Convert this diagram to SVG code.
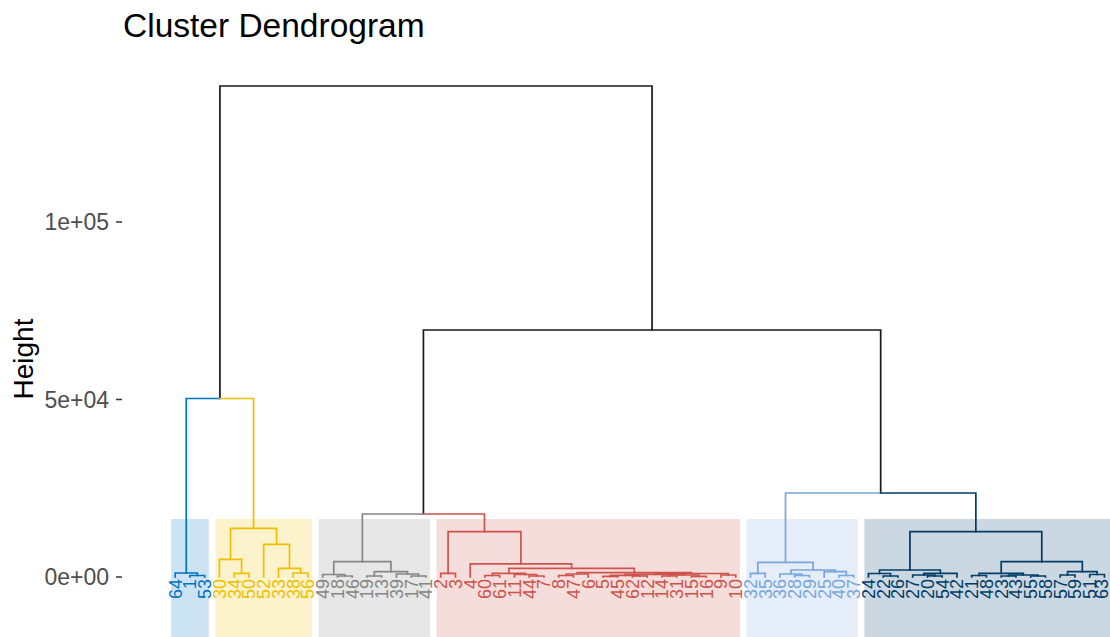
<svg xmlns="http://www.w3.org/2000/svg" width="1110" height="637" viewBox="0 0 1110 637">
  <style>
    text { font-family: "Liberation Sans", Arial, sans-serif; }
    .title { font-size: 33.5px; fill: #000; }
    .ytitle { font-size: 28px; fill: #000; }
    .tick { font-size: 23px; fill: #4d4d4d; text-anchor: end; }
    .tickmark { stroke: #333; stroke-width: 1.5; }
    .leaf { font-size: 18px; text-anchor: end; }
    .br { fill: none; stroke-width: 1.7; stroke-linejoin: miter; stroke-linecap: square; }
    .k { stroke: #1a1a1a; }
    .c1 { stroke: #0073C2; } .t1 { fill: #0073C2; }
    .c2 { stroke: #EFC000; } .t2 { fill: #EFC000; }
    .c3 { stroke: #868686; } .t3 { fill: #868686; }
    .c4 { stroke: #CD534C; } .t4 { fill: #CD534C; }
    .c5 { stroke: #7AA6DC; } .t5 { fill: #7AA6DC; }
    .c6 { stroke: #003C67; } .t6 { fill: #003C67; }
    .box { fill-opacity: 0.2; stroke: none; }
  </style>

  <rect width="1110" height="637" fill="#fff"/>

  <text class="title" x="123" y="37">Cluster Dendrogram</text>

  <!-- y axis -->
  <g id="axis">
    <text class="ytitle" x="-359" y="33" text-anchor="middle" transform="rotate(-90)">Height</text>
    <line class="tickmark" x1="116" y1="222" x2="122" y2="222"/>
    <line class="tickmark" x1="116" y1="399.5" x2="122" y2="399.5"/>
    <line class="tickmark" x1="116" y1="577" x2="122" y2="577"/>
    <text class="tick" x="109" y="230">1e+05</text>
    <text class="tick" x="109" y="407.5">5e+04</text>
    <text class="tick" x="109" y="585">0e+00</text>
  </g>

  <!-- cluster boxes -->
  <g id="cluster1"><rect class="box" fill="#0073C2" x="171.1" y="519" width="37.7" height="118"/></g>
  <g id="cluster2"><rect class="box" fill="#EFC000" x="215.4" y="519" width="96.6" height="118"/></g>
  <g id="cluster3"><rect class="box" fill="#868686" x="318.6" y="519" width="111.4" height="118"/></g>
  <g id="cluster4"><rect class="box" fill="#CD534C" x="436.6" y="519" width="303.2" height="118"/></g>
  <g id="cluster5"><rect class="box" fill="#7AA6DC" x="746.4" y="519" width="111.4" height="118"/></g>
  <g id="cluster6"><rect class="box" fill="#003C67" x="864.4" y="519" width="246" height="118"/></g>

  <!-- branches -->
  <g id="connectors">
    <!-- upper tree -->
    <path class="br k" d="M219.91 398.5 V86 H652.05 V330"/>
    <path class="br k" d="M423.42 514 V330 H880.67 V493"/>

    <!-- cluster 1 -->
    <path class="br c1" d="M186.26 573 V398.5 H219.91"/>
    <path class="br c1" d="M189.95 577 V575.5 H204.7 V577"/>
    <path class="br c1" d="M175.2 577 V573 H197.33 V575.5"/>

    <!-- cluster 2 -->
    <path class="br c2" d="M219.91 398.5 H253.56 V528.3"/>
    <path class="br c2" d="M230.51 559.3 V528.3 H276.6 V544.3"/>
    <path class="br c2" d="M219.45 577 V559.3 H241.58 V573.3"/>
    <path class="br c2" d="M234.2 577 V573.3 H248.95 V577"/>
    <path class="br c2" d="M263.7 577 V544.3 H289.51 V568.3"/>
    <path class="br c2" d="M278.45 577 V568.3 H300.58 V573"/>
    <path class="br c2" d="M293.2 577 V573 H307.95 V577"/>

    <!-- cluster 3 -->
    <path class="br c3" d="M362.34 561.7 V514 H423.42"/>
    <path class="br c3" d="M333.76 574.5 V561.7 H390.92 V571.7"/>
    <path class="br c3" d="M322.7 577 V574.5 H344.83 V576"/>
    <path class="br c3" d="M337.45 577 V576 H352.2 V577"/>
    <path class="br c3" d="M374.33 576 V571.7 H407.51 V574"/>
    <path class="br c3" d="M366.95 577 V576 H381.7 V577"/>
    <path class="br c3" d="M396.45 577 V574 H418.58 V576"/>
    <path class="br c3" d="M411.2 577 V576 H425.95 V577"/>

    <!-- cluster 4 -->
    <path class="br c4" d="M423.42 514 H484.49 V531.7"/>
    <path class="br c4" d="M448.08 573.3 V531.7 H520.9 V563.8"/>
    <path class="br c4" d="M440.7 577 V573.3 H455.45 V577"/>
    <path class="br c4" d="M470.2 577 V563.8 H571.61 V568.3"/>
    <path class="br c4" d="M508.92 573.3 V568.3 H634.3 V572.7"/>
    <path class="br c4" d="M492.33 575.5 V573.3 H525.51 V574.5"/>
    <path class="br c4" d="M484.95 577 V575.5 H499.7 V577"/>
    <path class="br c4" d="M514.45 577 V574.5 H536.58 V576"/>
    <path class="br c4" d="M529.2 577 V576 H543.95 V577"/>
    <path class="br c4" d="M577.14 574 V572.7 H691.45 V573.5"/>
    <path class="br c4" d="M566.08 575.5 V574 H588.2 V577"/>
    <path class="br c4" d="M558.7 577 V575.5 H573.45 V577"/>
    <path class="br c4" d="M654.58 574.3 V573.5 H728.33 V575"/>
    <path class="br c4" d="M625.08 575.3 V574.3 H684.08 V575"/>
    <path class="br c4" d="M610.33 576.3 V575.3 H639.83 V576"/>
    <path class="br c4" d="M602.95 577 V576.3 H617.7 V577"/>
    <path class="br c4" d="M632.45 577 V576 H647.2 V577"/>
    <path class="br c4" d="M669.33 576 V575 H698.83 V576.3"/>
    <path class="br c4" d="M661.95 577 V576 H676.7 V577"/>
    <path class="br c4" d="M691.45 577 V576.3 H706.2 V577"/>
    <path class="br c4" d="M720.95 577 V575 H735.7 V577"/>

    <!-- cluster 5 -->
    <path class="br c5" d="M785.49 562.3 V493 H880.67"/>
    <path class="br c5" d="M757.83 573.3 V562.3 H813.14 V570"/>
    <path class="br c5" d="M750.45 577 V573.3 H765.2 V577"/>
    <path class="br c5" d="M791.01 574 V570 H835.26 V571.7"/>
    <path class="br c5" d="M779.95 577 V574 H802.08 V575.5"/>
    <path class="br c5" d="M794.7 577 V575.5 H809.45 V577"/>
    <path class="br c5" d="M824.2 577 V571.7 H846.33 V575.5"/>
    <path class="br c5" d="M838.95 577 V575.5 H853.7 V577"/>

    <!-- cluster 6 -->
    <path class="br c6" d="M880.67 493 H975.85 V531.7"/>
    <path class="br c6" d="M909.93 570 V531.7 H1041.77 V561.7"/>
    <path class="br c6" d="M879.51 573.5 V570 H940.36 V573.3"/>
    <path class="br c6" d="M868.45 577 V573.5 H890.58 V576"/>
    <path class="br c6" d="M883.2 577 V576 H897.95 V577"/>
    <path class="br c6" d="M923.76 575 V573.3 H956.95 V577"/>
    <path class="br c6" d="M912.7 577 V575 H934.83 V576"/>
    <path class="br c6" d="M927.45 577 V576 H942.2 V577"/>
    <path class="br c6" d="M1001.2 573.3 V561.7 H1082.33 V571.7"/>
    <path class="br c6" d="M979.08 575.5 V573.3 H1023.33 V575"/>
    <path class="br c6" d="M971.7 577 V575.5 H986.45 V577"/>
    <path class="br c6" d="M1008.58 576 V575 H1038.08 V576"/>
    <path class="br c6" d="M1001.2 577 V576 H1015.95 V577"/>
    <path class="br c6" d="M1030.7 577 V576 H1045.45 V577"/>
    <path class="br c6" d="M1067.58 575 V571.7 H1097.08 V574.5"/>
    <path class="br c6" d="M1060.2 577 V575 H1074.95 V577"/>
    <path class="br c6" d="M1089.7 577 V574.5 H1104.45 V577"/>
  </g>

  <!-- leaf labels (rotated, reading upward, ending at the leaf) -->
  <g id="labels1" class="leaf t1" transform="rotate(-90)">
    <text x="-579" y="175.2" dy=".35em">64</text>
    <text x="-579" y="189.95" dy=".35em">1</text>
    <text x="-579" y="204.7" dy=".35em">53</text>
  </g>
  <g id="labels2" class="leaf t2" transform="rotate(-90)">
    <text x="-579" y="219.45" dy=".35em">30</text>
    <text x="-579" y="234.2" dy=".35em">34</text>
    <text x="-579" y="248.95" dy=".35em">50</text>
    <text x="-579" y="263.7" dy=".35em">52</text>
    <text x="-579" y="278.45" dy=".35em">33</text>
    <text x="-579" y="293.2" dy=".35em">38</text>
    <text x="-579" y="307.95" dy=".35em">56</text>
  </g>
  <g id="labels3" class="leaf t3" transform="rotate(-90)">
    <text x="-579" y="322.7" dy=".35em">49</text>
    <text x="-579" y="337.45" dy=".35em">18</text>
    <text x="-579" y="352.2" dy=".35em">46</text>
    <text x="-579" y="366.95" dy=".35em">19</text>
    <text x="-579" y="381.7" dy=".35em">13</text>
    <text x="-579" y="396.45" dy=".35em">39</text>
    <text x="-579" y="411.2" dy=".35em">17</text>
    <text x="-579" y="425.95" dy=".35em">41</text>
  </g>
  <g id="labels4" class="leaf t4" transform="rotate(-90)">
    <text x="-579" y="440.7" dy=".35em">2</text>
    <text x="-579" y="455.45" dy=".35em">3</text>
    <text x="-579" y="470.2" dy=".35em">4</text>
    <text x="-579" y="484.95" dy=".35em">60</text>
    <text x="-579" y="499.7" dy=".35em">61</text>
    <text x="-579" y="514.45" dy=".35em">11</text>
    <text x="-579" y="529.2" dy=".35em">44</text>
    <text x="-579" y="543.95" dy=".35em">7</text>
    <text x="-579" y="558.7" dy=".35em">8</text>
    <text x="-579" y="573.45" dy=".35em">47</text>
    <text x="-579" y="588.2" dy=".35em">6</text>
    <text x="-579" y="602.95" dy=".35em">5</text>
    <text x="-579" y="617.7" dy=".35em">45</text>
    <text x="-579" y="632.45" dy=".35em">62</text>
    <text x="-579" y="647.2" dy=".35em">12</text>
    <text x="-579" y="661.95" dy=".35em">14</text>
    <text x="-579" y="676.7" dy=".35em">31</text>
    <text x="-579" y="691.45" dy=".35em">15</text>
    <text x="-579" y="706.2" dy=".35em">16</text>
    <text x="-579" y="720.95" dy=".35em">9</text>
    <text x="-579" y="735.7" dy=".35em">10</text>
  </g>
  <g id="labels5" class="leaf t5" transform="rotate(-90)">
    <text x="-579" y="750.45" dy=".35em">32</text>
    <text x="-579" y="765.2" dy=".35em">35</text>
    <text x="-579" y="779.95" dy=".35em">36</text>
    <text x="-579" y="794.7" dy=".35em">28</text>
    <text x="-579" y="809.45" dy=".35em">29</text>
    <text x="-579" y="824.2" dy=".35em">25</text>
    <text x="-579" y="838.95" dy=".35em">40</text>
    <text x="-579" y="853.7" dy=".35em">37</text>
  </g>
  <g id="labels6" class="leaf t6" transform="rotate(-90)">
    <text x="-579" y="868.45" dy=".35em">24</text>
    <text x="-579" y="883.2" dy=".35em">22</text>
    <text x="-579" y="897.95" dy=".35em">26</text>
    <text x="-579" y="912.7" dy=".35em">27</text>
    <text x="-579" y="927.45" dy=".35em">20</text>
    <text x="-579" y="942.2" dy=".35em">54</text>
    <text x="-579" y="956.95" dy=".35em">42</text>
    <text x="-579" y="971.7" dy=".35em">21</text>
    <text x="-579" y="986.45" dy=".35em">48</text>
    <text x="-579" y="1001.2" dy=".35em">23</text>
    <text x="-579" y="1015.95" dy=".35em">43</text>
    <text x="-579" y="1030.7" dy=".35em">55</text>
    <text x="-579" y="1045.45" dy=".35em">58</text>
    <text x="-579" y="1060.2" dy=".35em">57</text>
    <text x="-579" y="1074.95" dy=".35em">59</text>
    <text x="-579" y="1089.7" dy=".35em">51</text>
    <text x="-579" y="1101.5" dy=".35em">63</text>
  </g>
</svg>
